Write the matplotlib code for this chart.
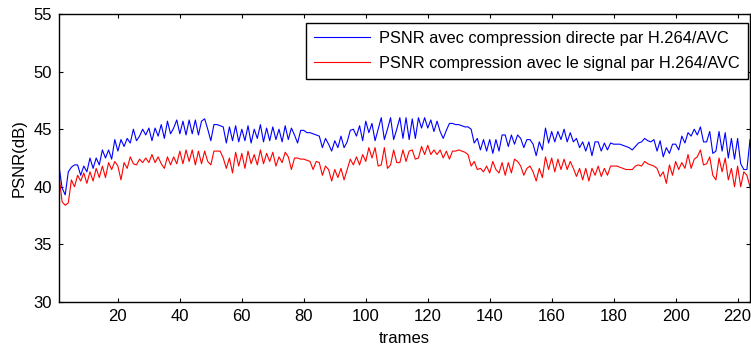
import matplotlib
matplotlib.use("Agg")
import matplotlib.pyplot as plt
import numpy as np

plt.rcParams['font.family'] = ['Liberation Sans', 'DejaVu Sans']

frames = list(range(1, 225))

psnr_direct = [
    41.8, 39.9, 39.3, 41.3, 41.7, 41.9, 41.9, 41.0, 41.8, 41.3,
    42.5, 41.6, 42.5, 41.9, 43.2, 42.5, 43.2, 42.4, 44.1, 43.1,
    44.1, 43.5, 44.2, 43.8, 45.0, 44.0, 44.4, 45.0, 44.5, 45.1,
    44.0, 45.1, 44.4, 45.4, 44.2, 45.7, 44.6, 45.1, 45.8, 44.6,
    45.7, 44.5, 45.8, 44.6, 45.8, 44.5, 45.7, 45.9, 45.0, 44.0,
    45.4, 45.4, 45.3, 45.2, 43.8, 45.2, 44.0, 45.3, 43.9, 45.0,
    44.0, 45.3, 43.8, 45.0, 44.2, 45.4, 43.9, 45.1, 44.0, 45.2,
    44.1, 45.0, 43.9, 45.3, 44.1, 45.1, 44.5, 43.8, 44.9, 44.9,
    44.7, 44.7, 44.6, 44.5, 44.4, 43.4, 44.2, 43.7, 43.1, 44.0,
    43.4, 44.4, 43.4, 43.9, 44.9, 45.0, 44.4, 45.3, 44.0, 45.7,
    44.7, 45.5, 44.0, 45.0, 46.0, 44.1, 45.0, 46.0, 44.1, 45.0,
    46.0, 44.2, 46.0, 44.1, 45.9, 44.2, 46.0, 45.1, 46.0, 45.1,
    45.8, 44.8, 45.7, 44.8, 44.2, 44.9, 45.5, 45.5, 45.4, 45.4,
    45.3, 45.2, 45.2, 45.0, 43.8, 44.2, 43.2, 44.1, 43.1, 44.1,
    42.9, 44.1, 43.1, 44.5, 44.5, 43.5, 44.5, 43.7, 44.5, 44.2,
    43.4, 44.1, 44.1, 43.7, 42.7, 43.9, 43.2, 45.1, 43.8, 44.8,
    43.9, 44.8, 44.1, 45.0, 43.9, 44.7, 43.9, 44.2, 43.4, 43.9,
    43.1, 43.9, 42.7, 43.9, 43.9, 43.1, 43.8, 43.2, 43.8, 43.7,
    43.7, 43.7, 43.6, 43.5, 43.4, 43.2, 43.5, 43.8, 43.9, 44.2,
    44.0, 43.9, 44.1, 43.1, 44.0, 42.6, 43.4, 42.9, 43.7, 43.7,
    43.2, 44.4, 43.8, 44.7, 44.4, 45.0, 44.5, 45.2, 43.9, 43.9,
    44.8, 42.9, 43.1, 44.8, 43.1, 44.7, 42.5, 44.2, 42.4, 44.2,
    42.0, 41.5, 41.5, 44.1,
]

psnr_signal = [
    41.0, 38.7, 38.4, 38.6, 40.6, 40.0, 41.0, 40.5, 41.2, 40.3,
    41.3, 40.5, 41.6, 40.8, 41.8, 40.8, 42.1, 41.5, 42.2, 41.8,
    40.6, 42.1, 41.6, 42.6, 42.0, 41.9, 42.4, 42.1, 42.5, 42.1,
    42.8, 42.1, 42.6, 42.0, 41.6, 42.6, 41.9, 42.6, 42.0, 43.1,
    42.0, 43.2, 42.2, 43.2, 41.9, 43.1, 42.0, 43.1, 42.2, 41.9,
    43.1, 43.1, 43.1, 42.5, 41.6, 42.5, 41.2, 43.0, 41.8, 42.9,
    41.6, 43.1, 42.0, 42.8, 41.9, 43.2, 42.0, 42.9, 42.2, 43.0,
    41.8, 42.6, 42.1, 43.0, 42.6, 41.5, 42.5, 42.5, 42.4, 42.4,
    42.3, 42.2, 41.5, 42.2, 42.1, 41.0, 41.8, 41.5, 40.5, 41.5,
    40.8, 41.6, 40.6, 41.5, 42.4, 41.9, 42.6, 41.9, 42.8, 42.2,
    43.4, 42.5, 43.4, 41.8, 41.9, 43.4, 41.6, 41.9, 43.2, 42.1,
    42.1, 43.2, 42.2, 43.1, 43.2, 42.4, 42.5, 43.5, 42.8, 43.6,
    42.8, 43.2, 42.8, 43.2, 42.5, 43.1, 42.4, 43.1, 43.1, 43.2,
    43.1, 43.0, 42.8, 41.8, 42.2, 41.5, 41.6, 41.3, 41.8, 41.2,
    42.2, 41.5, 41.2, 42.1, 41.0, 42.1, 41.2, 42.4, 42.2, 41.8,
    41.0, 41.6, 41.8, 41.3, 40.5, 41.6, 40.8, 42.6, 41.5, 42.5,
    41.3, 42.4, 41.5, 42.4, 41.5, 42.2, 41.6, 40.9, 41.6, 40.6,
    41.6, 40.5, 41.6, 41.0, 41.8, 40.9, 41.6, 41.0, 41.8, 41.8,
    41.8, 41.7, 41.6, 41.5, 41.5, 41.5, 41.8, 41.9, 41.8, 42.2,
    42.0, 41.9, 41.8, 41.6, 40.9, 41.3, 40.3, 41.9, 41.0, 42.2,
    41.5, 42.1, 41.6, 42.8, 41.6, 42.4, 42.6, 43.2, 41.9, 42.0,
    42.6, 41.0, 40.6, 42.5, 41.3, 42.5, 40.6, 41.6, 40.0, 41.8,
    40.0, 41.3, 41.0, 40.0,
]

labels = ["PSNR avec compression directe par H.264/AVC",
          "PSNR compression avec le signal par H.264/AVC"]
colors = ["#0000ff", "#ff0000"]
xticks = list(range(20, 221, 20))
yticks = list(range(30, 56, 5))

fig = plt.figure(figsize=(7.51, 3.47), dpi=100)
ax = fig.add_axes([59/751, 45/347, 691/751, 288/347])

ax.plot(frames, psnr_direct, color=colors[0], lw=0.8, label=labels[0])
ax.plot(frames, psnr_signal, color=colors[1], lw=0.8, label=labels[1])

ax.set_xlim(1, 224)
ax.set_ylim(30, 55)
ax.set_xticks(xticks)
ax.set_yticks(yticks)
ax.tick_params(direction='in', top=True, right=True, length=3, width=0.8,
               labelsize=12, colors='black', pad=5)
for s in ax.spines.values():
    s.set_linewidth(1.0)
    s.set_color('black')

ax.set_xlabel("trames", fontsize=12, labelpad=5)
ax.set_ylabel("PSNR(dB)", fontsize=12, labelpad=5)

leg = ax.legend(loc='upper right', fontsize=11.8, frameon=True, fancybox=False,
                edgecolor='black', framealpha=1, borderpad=0.5,
                handlelength=3.4, handletextpad=0.55, labelspacing=0.6,
                borderaxespad=0, bbox_to_anchor=(0.997, 0.969))
leg.get_frame().set_linewidth(1.0)

fig.savefig("out.png", dpi=100)
